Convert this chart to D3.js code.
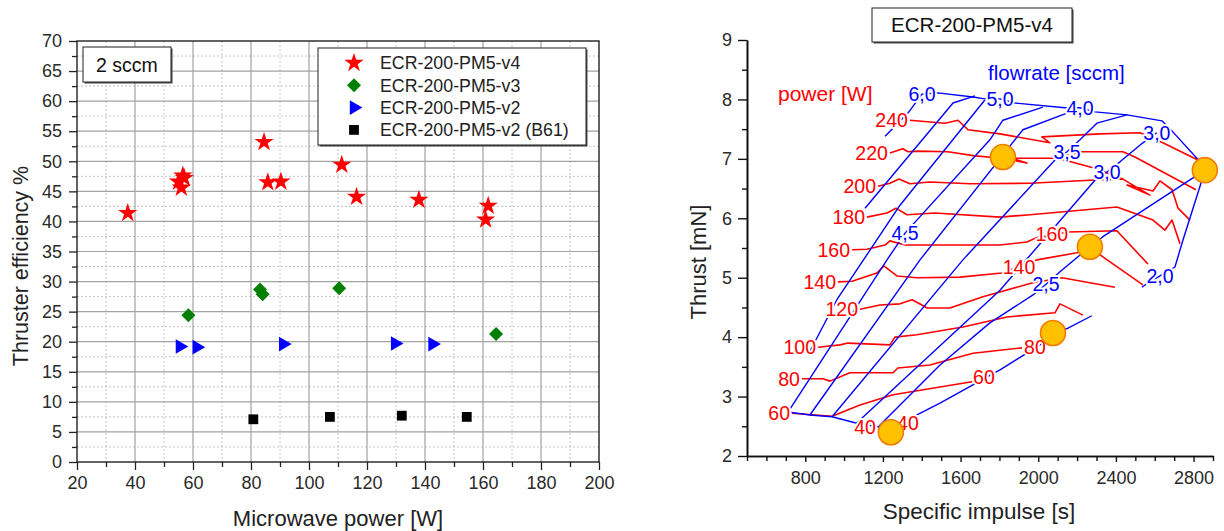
<!DOCTYPE html>
<html>
<head>
<meta charset="utf-8">
<script src="https://cdn.jsdelivr.net/npm/d3@7/dist/d3.min.js"></script>
<style>
  body { margin: 0; background: #fff; }
  svg text { font-family: "Liberation Sans", Arial, sans-serif; }
</style>
</head>
<body>
<svg id="chart" width="1224" height="531"></svg>
<script>
// ---- left panel: efficiency vs microwave power (2 sccm)
const v4Power = [37.5, 55, 56, 56.5, 57, 84.5, 85.8, 90.3, 111.3, 116.4, 137.9, 161.8, 160.9]
const v4Eff = [41.4, 46.6, 45.6, 47.6, 47.2, 53.2, 46.5, 46.6, 49.4, 44.1, 43.6, 42.6, 40.3]
const v3Power = [58.4, 83.1, 84.0, 110.4, 164.5]
const v3Eff = [24.4, 28.7, 27.9, 28.9, 21.3]
const v2Power = [55.5, 61.3, 91.1, 129.7, 142.6]
const v2Eff = [19.2, 19.1, 19.6, 19.7, 19.6]
const b61Power = [80.8, 107.2, 132.0, 154.4]
const b61Eff = [7.1, 7.5, 7.7, 7.5]
const seriesNames = ["ECR-200-PM5-v4", "ECR-200-PM5-v3", "ECR-200-PM5-v2", "ECR-200-PM5-v2 (B61)"]

// ---- right panel: thrust vs specific impulse map, [Isp s, thrust mN]
const powerLevels = [240, 220, 200, 180, 160, 140, 120, 100, 80, 60]
const p240 = [[1339, 7.65], [1519, 7.60], [1587, 7.65], [1638, 7.49], [1803, 7.42], [2060, 7.27], [2019, 7.37], [2318, 7.42], [2524, 7.44], [2642, 7.27], [2822, 6.98]]
const p220 = [[1236, 7.10], [1303, 7.17], [1329, 7.12], [1380, 7.13], [1535, 7.12], [1674, 7.05], [1818, 7.01], [1942, 6.93], [1865, 7.01], [2086, 7.01], [2225, 7.12], [2436, 7.12], [2498, 7.03], [2812, 6.48]]
const p220b = [[2101, 7.01], [2282, 6.85], [2436, 6.66]]
const p200 = [[1175, 6.54], [1236, 6.59], [1283, 6.66], [1339, 6.58], [1442, 6.61], [1648, 6.58], [1957, 6.59], [2266, 6.64], [2436, 6.66], [2575, 6.39], [2457, 6.56], [2591, 6.46], [2627, 6.63], [2689, 6.48], [2720, 6.17], [2781, 5.97]]
const p180 = [[1118, 6.02], [1221, 6.09], [1267, 6.17], [1324, 6.06], [1468, 6.09], [1803, 6.02], [1957, 6.06], [2405, 6.19], [2591, 5.97], [2652, 5.80], [2689, 5.97], [2730, 5.57]]
const p160 = [[1041, 5.47], [1118, 5.48], [1211, 5.55], [1236, 5.62], [1314, 5.55], [1803, 5.55], [1942, 5.60], [1988, 5.67], [2153, 5.77], [2405, 5.79], [2565, 5.23]]
const p140 = [[969, 4.93], [1041, 4.94], [1169, 5.08], [1205, 5.20], [1272, 5.03], [1375, 5.00], [1597, 5.01], [1813, 5.08], [1993, 5.30], [2199, 5.42], [2266, 5.52], [2333, 5.35], [2539, 4.88]]
const p120 = [[1082, 4.47], [1185, 4.54], [1288, 4.56], [1350, 4.63], [1401, 4.54], [1427, 4.49], [1545, 4.49], [1715, 4.68], [1967, 4.91], [2122, 5.00], [2395, 4.84]]
const p100 = [[866, 3.83], [979, 3.87], [1020, 3.90], [1236, 3.87], [1262, 4.00], [1375, 4.04], [1612, 4.17], [1839, 4.34], [2086, 4.41], [2112, 4.56], [2230, 4.37]]
const p80 = [[783, 3.30], [891, 3.30], [927, 3.26], [1030, 3.40], [1252, 3.40], [1277, 3.48], [1442, 3.53], [1664, 3.73], [1916, 3.82]]
const p60 = [[732, 2.72], [938, 2.67], [1082, 2.86], [1252, 3.03], [1494, 3.16], [1659, 3.25]]
const powerLines = [p240, p220, p200, p180, p160, p140, p120, p100, p80, p60]
const powerMidLabels = [["160", 2070, 5.73], ["140", 1901, 5.18], ["80", 1983, 3.83], ["60", 1720, 3.33], ["40", 1108, 2.49], ["40", 1329, 2.56]]

const flowEnvelope = [[1211, 7.38], [1329, 7.77], [1401, 8.09], [1483, 8.11], [1664, 8.04], [1725, 8.01], [1803, 8.01], [1880, 7.94], [2137, 7.86], [2215, 7.86], [2292, 7.79], [2457, 7.74], [2637, 7.64], [2694, 7.45], [2817, 7.01], [2858, 6.81], [2838, 6.59], [2745, 5.63], [2704, 5.18], [2627, 5.03], [2555, 4.89], [2534, 4.84]]
const flowBottom = [[711, 2.74], [824, 2.69], [938, 2.66], [1056, 2.56], [1175, 2.49], [1241, 2.40], [1355, 2.66], [1494, 2.89], [1803, 3.45], [2024, 3.90], [2076, 4.07], [2153, 4.15], [2276, 4.36]]
const f55 = [[1108, 6.17], [1561, 7.94], [1674, 8.06]]
const f50 = [[814, 3.70], [963, 4.63], [1288, 6.22], [1725, 7.99]]
const f45 = [[711, 2.74], [1221, 5.30], [1314, 5.75], [1751, 7.32], [1818, 7.65], [2024, 7.87]]
const f40 = [[824, 2.69], [1391, 5.30], [1921, 7.49], [2148, 7.77]]
const f35 = [[938, 2.66], [1612, 5.30], [2086, 6.98], [2148, 7.12], [2215, 7.32], [2302, 7.60], [2457, 7.74]]
const f30 = [[1066, 2.56], [1803, 4.79], [2292, 6.64], [2354, 6.78], [2421, 6.95], [2539, 7.27], [2611, 7.44]]
const f25 = [[1175, 2.49], [1494, 3.53], [1751, 4.24], [1973, 4.71], [2040, 4.89], [2112, 5.10], [2266, 5.52], [2333, 5.69], [2797, 6.68], [2858, 6.81]]
const flowLines = [flowEnvelope, flowBottom, f55, f50, f45, f40, f35, f30, f25]
const flowLabels = [["6,0", 1401, 8.09], ["5,0", 1803, 8.01], ["4,0", 2215, 7.86], ["3,0", 2611, 7.44], ["3,5", 2148, 7.12], ["3,0", 2354, 6.78], ["4,5", 1314, 5.75], ["2,5", 2040, 4.89], ["2,0", 2627, 5.03]]

const opIsp = [1818, 2858, 2266, 2076, 1241]
const opThrust = [7.03, 6.81, 5.52, 4.07, 2.40]

const RED = "#ff0000"
const BLUE = "#0000ff"
const svg = d3.select("#chart")

// ================= left panel
const L = { left: 77, right: 599, top: 41, bottom: 462 }
const xL = d3.scaleLinear().domain([20, 200]).range([L.left, L.right])
const yL = d3.scaleLinear().domain([0, 70]).range([L.bottom, L.top])
const gL = svg.append("g")

const vGrid = (vals, cls) => gL.append("g").selectAll("line").data(vals).join("line")
  .attr("class", cls)
  .attr("x1", d => xL(d)).attr("x2", d => xL(d))
  .attr("y1", L.top).attr("y2", L.bottom)
const hGrid = (vals, cls) => gL.append("g").selectAll("line").data(vals).join("line")
  .attr("class", cls)
  .attr("x1", L.left).attr("x2", L.right)
  .attr("y1", d => yL(d)).attr("y2", d => yL(d))

vGrid(d3.range(30, 200, 20), "minor").attr("stroke", "#c4c4c4").attr("stroke-dasharray", "2,2")
hGrid(d3.range(2.5, 70, 5), "minor").attr("stroke", "#c4c4c4").attr("stroke-dasharray", "2,2")
vGrid(d3.range(40, 200, 20), "major").attr("stroke", "#a2a2a2").attr("stroke-width", 1.2)
hGrid(d3.range(5, 70, 5), "major").attr("stroke", "#a2a2a2").attr("stroke-width", 1.2)

function styleAxis(g) {
  g.select(".domain").remove()
  g.selectAll("line").attr("stroke", "#222").attr("stroke-width", 1.3)
  g.selectAll("text").attr("font-size", 18).attr("fill", "#2a2a2a")
    .attr("font-family", "'Liberation Sans', Arial, sans-serif")
}

gL.append("g").attr("transform", `translate(0,${L.bottom})`)
  .call(d3.axisBottom(xL).tickValues(d3.range(20, 201, 20)).tickSize(8).tickPadding(6))
  .call(styleAxis)
gL.append("g").attr("transform", `translate(0,${L.bottom})`)
  .call(d3.axisBottom(xL).tickValues(d3.range(30, 200, 20)).tickSize(5).tickFormat(""))
  .call(styleAxis)
gL.append("g").attr("transform", `translate(${L.left},0)`)
  .call(d3.axisLeft(yL).tickValues(d3.range(0, 71, 5)).tickSize(8).tickPadding(7))
  .call(styleAxis)
gL.append("g").attr("transform", `translate(${L.left},0)`)
  .call(d3.axisLeft(yL).tickValues(d3.range(2.5, 70, 5)).tickSize(5).tickFormat(""))
  .call(styleAxis)

gL.append("rect")
  .attr("x", L.left).attr("y", L.top)
  .attr("width", L.right - L.left).attr("height", L.bottom - L.top)
  .attr("fill", "none").attr("stroke", "#222").attr("stroke-width", 1.4)

const markers = [
  { name: seriesNames[0], xs: v4Power, ys: v4Eff, type: d3.symbolStar, size: 115, color: RED, rot: 0 },
  { name: seriesNames[1], xs: v3Power, ys: v3Eff, type: d3.symbolSquare, size: 98, color: "#008000", rot: 45 },
  { name: seriesNames[2], xs: v2Power, ys: v2Eff, type: d3.symbolTriangle, size: 92, color: BLUE, rot: 90 },
  { name: seriesNames[3], xs: b61Power, ys: b61Eff, type: d3.symbolSquare, size: 96, color: "#000", rot: 0 }
]

markers.forEach(s => {
  gL.append("g").selectAll("path").data(s.xs.map((x, i) => [x, s.ys[i]])).join("path")
    .attr("d", d3.symbol().type(s.type).size(s.size))
    .attr("transform", d => `translate(${xL(d[0])},${yL(d[1])}) rotate(${s.rot})`)
    .attr("fill", s.color)
})

function box(g, x, y, w, h) {
  g.append("rect").attr("x", x + 1.5).attr("y", y + 1.5).attr("width", w).attr("height", h).attr("fill", "#444")
  g.append("rect").attr("x", x).attr("y", y).attr("width", w).attr("height", h)
    .attr("fill", "#fff").attr("stroke", "#333").attr("stroke-width", 1.1)
}

box(gL, 83, 47, 88, 35)
gL.append("text").attr("x", 127).attr("y", 65).attr("dy", "0.35em")
  .attr("text-anchor", "middle").attr("font-size", 19.5).attr("fill", "#111").text("2 sccm")

box(gL, 318, 48, 268, 97)
const legend = gL.append("g").selectAll("g").data(markers).join("g")
  .attr("transform", (d, i) => `translate(354,${63 + i * 22.3})`)
legend.append("path")
  .attr("d", d => d3.symbol().type(d.type).size(d.size)())
  .attr("transform", d => `rotate(${d.rot})`)
  .attr("fill", d => d.color)
legend.append("text").attr("x", 26).attr("dy", "0.36em")
  .attr("font-size", 17.8).attr("fill", "#222").text(d => d.name)

gL.append("text")
  .attr("transform", `translate(20,266) rotate(-90)`)
  .attr("text-anchor", "middle").attr("dy", "0.35em")
  .attr("font-size", 21.5).attr("fill", "#222")
  .text("Thruster efficiency %")
gL.append("text")
  .attr("x", 338).attr("y", 518).attr("dy", "0.35em")
  .attr("text-anchor", "middle").attr("font-size", 22).attr("fill", "#222")
  .text("Microwave power [W]")

// ================= right panel
const R = { left: 747, right: 1213, top: 40, bottom: 456 }
const xR = d3.scaleLinear().domain([500, 2900]).range([R.left, R.right])
const yR = d3.scaleLinear().domain([2, 9]).range([R.bottom, R.top])
const gR = svg.append("g")
const lineGen = d3.line().x(d => xR(d[0])).y(d => yR(d[1]))

gR.append("g").selectAll("path").data(powerLines.concat([p220b])).join("path")
  .attr("d", lineGen)
  .attr("fill", "none").attr("stroke", RED).attr("stroke-width", 1.6)
  .attr("stroke-linejoin", "round")

gR.append("g").selectAll("path").data(flowLines).join("path")
  .attr("d", lineGen)
  .attr("fill", "none").attr("stroke", BLUE).attr("stroke-width", 1.4)
  .attr("stroke-linejoin", "round")

const haloText = (sel) => sel
  .attr("font-size", 19.5)
  .attr("stroke", "#fff").attr("stroke-width", 4).attr("paint-order", "stroke")
  .attr("stroke-linejoin", "round")

// power labels at the start of each red line
gR.append("g").selectAll("text").data(powerLevels).join("text")
  .attr("x", (d, i) => xR(powerLines[i][0][0]) - 2)
  .attr("y", (d, i) => yR(powerLines[i][0][1]))
  .attr("dy", "0.36em").attr("text-anchor", "end")
  .attr("fill", RED).call(haloText)
  .text(d => d)

gR.append("g").selectAll("text").data(powerMidLabels).join("text")
  .attr("x", d => xR(d[1])).attr("y", d => yR(d[2]))
  .attr("dy", "0.36em").attr("text-anchor", "middle")
  .attr("fill", RED).call(haloText)
  .text(d => d[0])

gR.append("g").selectAll("text").data(flowLabels).join("text")
  .attr("x", d => xR(d[1])).attr("y", d => yR(d[2]))
  .attr("dy", "0.36em").attr("text-anchor", "middle")
  .attr("fill", BLUE).call(haloText)
  .text(d => d[0])

gR.append("g").selectAll("circle").data(opIsp).join("circle")
  .attr("cx", d => xR(d)).attr("cy", (d, i) => yR(opThrust[i]))
  .attr("r", 12.5)
  .attr("fill", "#ffc000").attr("stroke", "#f07c00").attr("stroke-width", 1.6)

function styleAxisR(g) {
  g.selectAll("line").attr("stroke", "#111").attr("stroke-width", 1.4)
  g.select(".domain").attr("stroke", "#111").attr("stroke-width", 1.6)
  g.selectAll("text").attr("font-size", 18).attr("fill", "#2a2a2a")
    .attr("font-family", "'Liberation Sans', Arial, sans-serif")
}

gR.append("g").attr("transform", `translate(0,${R.bottom})`)
  .call(d3.axisBottom(xR).tickValues(d3.range(500, 2901, 100).filter(v => (v - 800) % 400 !== 0))
    .tickSize(5).tickSizeOuter(0).tickFormat(""))
  .call(styleAxisR)
gR.append("g").attr("transform", `translate(0,${R.bottom})`)
  .call(d3.axisBottom(xR).tickValues(d3.range(800, 2801, 400)).tickSize(6).tickSizeOuter(0)
    .tickPadding(9).tickFormat(d3.format("d")))
  .call(styleAxisR)
gR.append("g").attr("transform", `translate(${R.left},0)`)
  .call(d3.axisLeft(yR).tickValues(d3.range(2.5, 9, 1)).tickSize(5).tickSizeOuter(0).tickFormat(""))
  .call(styleAxisR)
gR.append("g").attr("transform", `translate(${R.left},0)`)
  .call(d3.axisLeft(yR).tickValues(d3.range(2, 10, 1)).tickSize(9).tickSizeOuter(0)
    .tickPadding(6).tickFormat(d3.format("d")))
  .call(styleAxisR)

box(gR, 872, 8, 200, 34)
gR.append("text").attr("x", 972).attr("y", 25).attr("dy", "0.35em")
  .attr("text-anchor", "middle").attr("font-size", 20.5).attr("fill", "#111").text("ECR-200-PM5-v4")

gR.append("text").attr("x", 778).attr("y", 94).attr("dy", "0.35em")
  .attr("font-size", 21).attr("fill", RED).text("power [W]")
gR.append("text").attr("x", 988).attr("y", 73).attr("dy", "0.35em")
  .attr("font-size", 20.5).attr("fill", BLUE).text("flowrate [sccm]")

gR.append("text")
  .attr("transform", `translate(698,262) rotate(-90)`)
  .attr("text-anchor", "middle").attr("dy", "0.35em")
  .attr("font-size", 22).attr("fill", "#222")
  .text("Thrust [mN]")
gR.append("text")
  .attr("x", 979).attr("y", 511).attr("dy", "0.35em")
  .attr("text-anchor", "middle").attr("font-size", 22.5).attr("fill", "#222")
  .text("Specific impulse [s]")
</script>
</body>
</html>
